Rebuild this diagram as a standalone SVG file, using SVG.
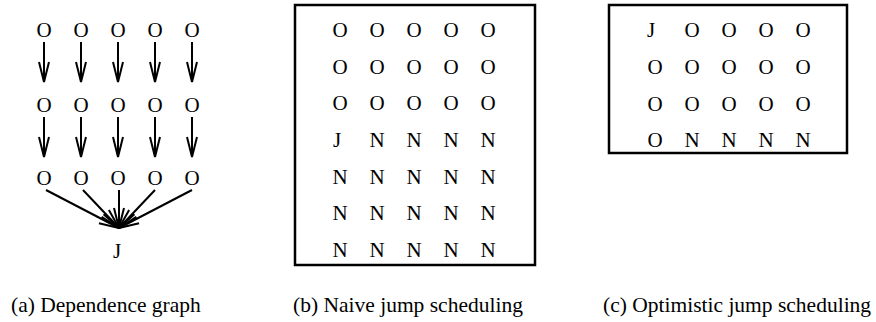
<svg xmlns="http://www.w3.org/2000/svg" width="876" height="322" viewBox="0 0 876 322">
<style>
text{font-family:"Liberation Serif","Times New Roman",serif;font-size:21px;fill:#000}
.c{text-anchor:middle}
.cap{font-size:21.5px}
.e{stroke:#000;stroke-width:2;fill:none}
.box{fill:#fff;stroke:#000;stroke-width:2.5}
</style>
<defs>
<marker id="ah" markerUnits="userSpaceOnUse" markerWidth="26" markerHeight="14" refX="21" refY="6" orient="auto" viewBox="0 0 26 12">
<path d="M1,1 L21,6 L1,11" fill="none" stroke="#000" stroke-width="2"/>
</marker>
</defs>
<rect width="876" height="322" fill="#fff"/>
<g id="connectors">
<g class="e" marker-end="url(#ah)">
<line x1="44" y1="42" x2="44" y2="82"/>
<line x1="81" y1="42" x2="81" y2="82"/>
<line x1="118" y1="42" x2="118" y2="82"/>
<line x1="155" y1="42" x2="155" y2="82"/>
<line x1="192" y1="42" x2="192" y2="82"/>
<line x1="44" y1="117" x2="44" y2="157"/>
<line x1="81" y1="117" x2="81" y2="157"/>
<line x1="118" y1="117" x2="118" y2="157"/>
<line x1="155" y1="117" x2="155" y2="157"/>
<line x1="192" y1="117" x2="192" y2="157"/>
<line x1="46" y1="190" x2="119" y2="228"/>
<line x1="83" y1="190" x2="119" y2="228"/>
<line x1="119" y1="190" x2="119" y2="228"/>
<line x1="155" y1="190" x2="119" y2="228"/>
<line x1="192" y1="190" x2="119" y2="228"/>
</g>
</g>
<g id="graph-a">
<g id="a-row1"><text class="c" x="44" y="37">O</text><text class="c" x="81" y="37">O</text><text class="c" x="118" y="37">O</text><text class="c" x="155" y="37">O</text><text class="c" x="192" y="37">O</text></g>
<g id="a-row2"><text class="c" x="44" y="112">O</text><text class="c" x="81" y="112">O</text><text class="c" x="118" y="112">O</text><text class="c" x="155" y="112">O</text><text class="c" x="192" y="112">O</text></g>
<g id="a-row3"><text class="c" x="44" y="185">O</text><text class="c" x="81" y="185">O</text><text class="c" x="118" y="185">O</text><text class="c" x="155" y="185">O</text><text class="c" x="192" y="185">O</text></g>
<g id="a-J"><text class="c" x="117" y="258">J</text></g>
</g>
<g id="schedule-b">
<rect class="box" x="295" y="5" width="240" height="260"/>
<g class="c">
<text x="340" y="37">O</text><text x="377" y="37">O</text><text x="414" y="37">O</text><text x="451" y="37">O</text><text x="488" y="37">O</text>
<text x="340" y="74">O</text><text x="377" y="74">O</text><text x="414" y="74">O</text><text x="451" y="74">O</text><text x="488" y="74">O</text>
<text x="340" y="110">O</text><text x="377" y="110">O</text><text x="414" y="110">O</text><text x="451" y="110">O</text><text x="488" y="110">O</text>
<text x="337" y="147">J</text><text x="377" y="147">N</text><text x="414" y="147">N</text><text x="451" y="147">N</text><text x="488" y="147">N</text>
<text x="340" y="184">N</text><text x="377" y="184">N</text><text x="414" y="184">N</text><text x="451" y="184">N</text><text x="488" y="184">N</text>
<text x="340" y="220">N</text><text x="377" y="220">N</text><text x="414" y="220">N</text><text x="451" y="220">N</text><text x="488" y="220">N</text>
<text x="340" y="257">N</text><text x="377" y="257">N</text><text x="414" y="257">N</text><text x="451" y="257">N</text><text x="488" y="257">N</text>
</g>
</g>
<g id="schedule-c">
<rect class="box" x="609" y="5" width="238" height="148"/>
<g class="c">
<text x="651" y="37">J</text><text x="692" y="37">O</text><text x="729" y="37">O</text><text x="766" y="37">O</text><text x="803" y="37">O</text>
<text x="655" y="74">O</text><text x="692" y="74">O</text><text x="729" y="74">O</text><text x="766" y="74">O</text><text x="803" y="74">O</text>
<text x="655" y="111">O</text><text x="692" y="111">O</text><text x="729" y="111">O</text><text x="766" y="111">O</text><text x="803" y="111">O</text>
<text x="655" y="147">O</text><text x="692" y="147">N</text><text x="729" y="147">N</text><text x="766" y="147">N</text><text x="803" y="147">N</text>
</g>
</g>
<g id="captions">
<text class="cap" x="11" y="312">(a) Dependence graph</text>
<text class="cap" x="293" y="312">(b) Naive jump scheduling</text>
<text class="cap" x="603" y="312">(c) Optimistic jump scheduling</text>
</g>
</svg>
